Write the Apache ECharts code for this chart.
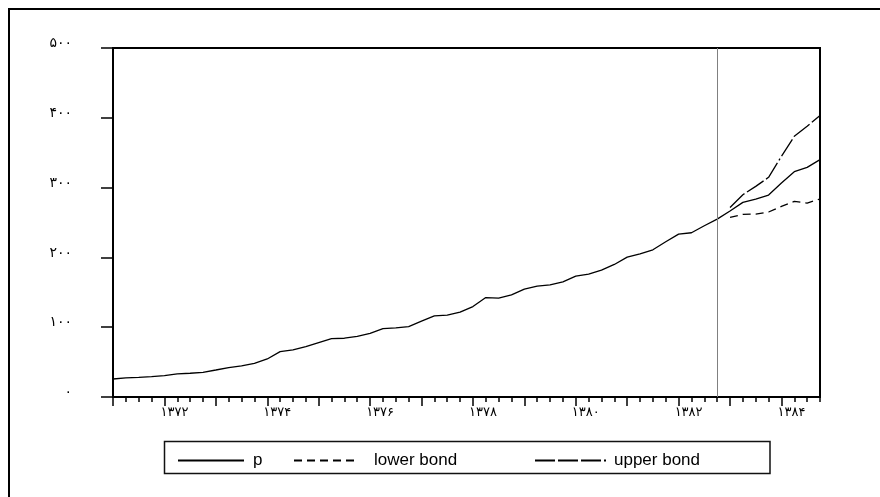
<!DOCTYPE html>
<html><head><meta charset="utf-8">
<script src="https://cdn.jsdelivr.net/npm/echarts@6/dist/echarts.min.js"></script>
<style>html,body{margin:0;padding:0;background:#fff}#c{width:880px;height:497px}</style>
</head><body><div id="c"></div>
<script>
// Quarterly observations 1371Q1 .. 1384Q4
const years = [1371,1372,1373,1374,1375,1376,1377,1378,1379,1380,1381,1382,1383,1384];
const quarters = [1,2,3,4];
const categories = [];
years.forEach(y => quarters.forEach(q => categories.push(y + 'Q' + q)));

const pValues = [
  25.8, 27.3, 28.2, 29.2, 30.6, 33.0, 34.0, 35.4,
  38.7, 42.1, 44.5, 48.3, 54.5, 65.0, 67.4, 72.2,
  78.0, 83.7, 84.2, 87.0, 91.3, 98.0, 99.0, 100.9,
  108.6, 116.2, 117.2, 121.5, 129.6, 142.5, 141.6, 146.3,
  154.5, 158.8, 160.7, 165.0, 173.1, 176.0, 181.7, 189.9,
  200.4, 205.2, 210.9, 222.4, 233.4, 235.3, 245.3, 254.9,
  266.4, 278.8, 283.6, 289.3, 306.6, 322.8, 329.0, 340.0
];
// forecast bounds, 1383Q1 .. 1384Q4
const lowerBond = [257.3, 261.6, 262.1, 265.0, 273.1, 280.2, 277.9, 283.6];
const upperBond = [271.6, 289.8, 301.8, 314.7, 344.8, 373.5, 387.9, 403.2];
const forecastStartCategory = '1383Q1';
const cutoffCategory = '1382Q4';

const yTicks = [0, 100, 200, 300, 400, 500];
const labelledYears = [1372, 1374, 1376, 1378, 1380, 1382, 1384];
const seriesNames = ['p', 'lower bond', 'upper bond'];

const persianDigits = ['۰','۱','۲','۳','۴','۵','۶','۷','۸','۹'];
const toPersian = s => String(s).replace(/\d/g, d => persianDigits[+d]);

const startIdx = categories.indexOf(forecastStartCategory);
const pad = arr => categories.map((c, i) => (i >= startIdx && i - startIdx < arr.length) ? arr[i - startIdx] : null);

const chart = echarts.init(document.getElementById('c'));
const digitFont = 'DejaVu Sans';
const legendText = {fontFamily: 'Liberation Sans, Arial, sans-serif', fontSize: 17, color: '#000'};
const legendCommon = {top: 452, padding: 0, itemHeight: 2, selectedMode: false, itemStyle: {opacity: 0}};

chart.setOption({
  animation: false,
  backgroundColor: '#fff',
  grid: {left: 113, right: 60, top: 48, bottom: 100, show: true, borderColor: '#000', borderWidth: 2, backgroundColor: 'transparent'},
  xAxis: [{
    type: 'category', data: categories, boundaryGap: false,
    axisLine: {show: true, lineStyle: {color: '#000', width: 2}},
    axisTick: {show: true, interval: 0, length: 5, lineStyle: {color: '#000', width: 1.5}},
    axisLabel: {
      interval: (i, v) => v.endsWith('Q1') && labelledYears.includes(+v.slice(0, 4)),
      formatter: v => toPersian(v.slice(0, 4)),
      fontFamily: digitFont, fontSize: 13, color: '#000', margin: 9, padding: [0, 0, 0, 20]
    },
    splitLine: {show: false}
  }, {
    type: 'category', data: categories, boundaryGap: false, position: 'bottom',
    axisLine: {show: false},
    axisTick: {show: true, interval: (i) => i % 4 === 0, length: 9, lineStyle: {color: '#000', width: 1.5}},
    axisLabel: {show: false},
    splitLine: {show: false}
  }],
  yAxis: {
    type: 'value', min: yTicks[0], max: yTicks[yTicks.length - 1], interval: 100,
    axisLine: {show: true, lineStyle: {color: '#000', width: 2}},
    axisTick: {show: true, length: 12, lineStyle: {color: '#000', width: 1.5}},
    axisLabel: {formatter: v => toPersian(v), fontFamily: digitFont, fontSize: 14, color: '#000', margin: 41,
      verticalAlign: 'bottom', lineHeight: 9},
    splitLine: {show: false}
  },
  legend: [
    Object.assign({data: [seriesNames[0]], left: 177, itemWidth: 66,
     textStyle: Object.assign({padding: [0, 0, 0, 4]}, legendText)}, legendCommon),
    Object.assign({data: [seriesNames[1]], left: 293, itemWidth: 64,
     textStyle: Object.assign({padding: [0, 0, 0, 11]}, legendText)}, legendCommon),
    Object.assign({data: [seriesNames[2]], left: 534, itemWidth: 72,
     textStyle: Object.assign({padding: [0, 0, 0, 2]}, legendText)}, legendCommon)
  ],
  graphic: [
    {type: 'rect', shape: {x: 9, y: 9, width: 900, height: 520}, style: {fill: 'none', stroke: '#000', lineWidth: 2}, silent: true},
    {type: 'rect', shape: {x: 164.5, y: 441.5, width: 605.5, height: 32}, style: {fill: 'none', stroke: '#111', lineWidth: 1.5}, silent: true}
  ],
  series: [
    {name: seriesNames[0], type: 'line', data: pValues, symbol: 'none', xAxisIndex: 0,
     lineStyle: {color: '#000', width: 1.3, type: 'solid'}, itemStyle: {color: '#000'},
     markLine: {silent: true, symbol: ['none', 'none'], label: {show: false},
       lineStyle: {color: '#808080', width: 1, type: 'solid'}, data: [{xAxis: cutoffCategory}]}},
    {name: seriesNames[1], type: 'line', data: pad(lowerBond), symbol: 'none', xAxisIndex: 0,
     lineStyle: {color: '#000', width: 1.3, type: [8, 5]}, itemStyle: {color: '#000'}},
    {name: seriesNames[2], type: 'line', data: pad(upperBond), symbol: 'none', xAxisIndex: 0,
     lineStyle: {color: '#000', width: 1.3, type: [20, 3, 20, 3, 20, 3, 2, 3]}, itemStyle: {color: '#000'}}
  ]
});
</script></body></html>
